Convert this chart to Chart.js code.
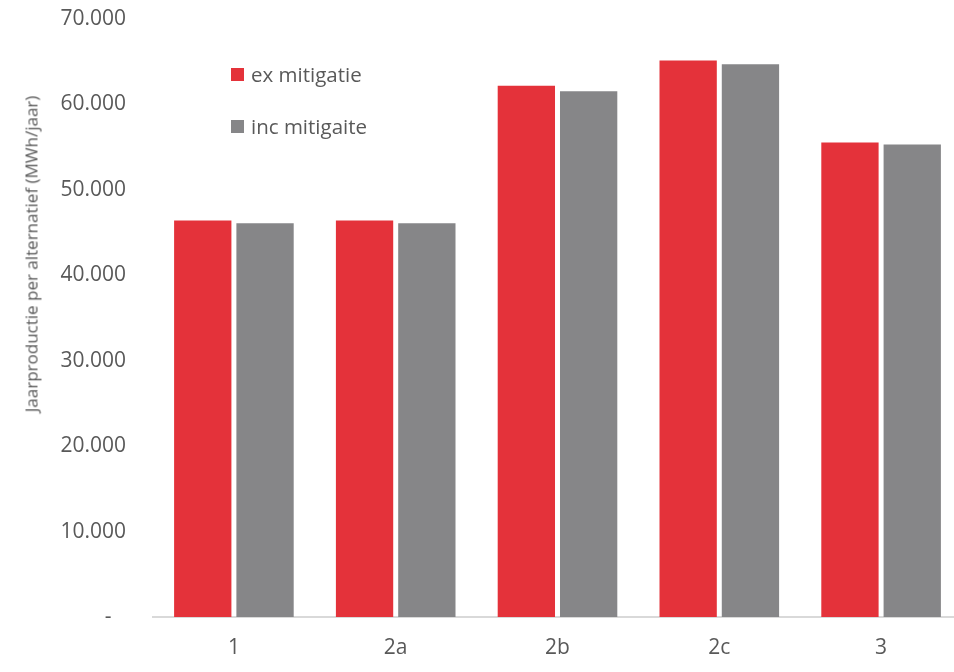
<!DOCTYPE html>
<html>
<head>
<meta charset="utf-8">
<script src="https://cdn.jsdelivr.net/npm/chart.js@4/dist/chart.umd.min.js"></script>
<style>
    html,body{margin:0;padding:0;background:#fff;overflow:hidden;}
    #wrap{position:relative;width:962px;height:672px;}
    #yTitle{
        position:absolute;left:31px;top:254px;
        transform:translate(-50%,-50%) rotate(-90deg);
        white-space:nowrap;font-family:"Open Sans",sans-serif;
        font-size:17px;color:#595959;
    }
    #legend{position:absolute;left:231px;top:60px;font-family:"Open Sans",sans-serif;font-size:20.5px;color:#595959;}
    #legend .item{display:flex;align-items:center;height:28px;margin-bottom:24px;}
    #legend .box{width:13px;height:13px;margin-right:7px;}
</style>
</head>
<body>
<div id="wrap">
    <canvas id="chartJaar" width="962" height="672"></canvas>
    <div id="yTitle">Jaarproductie per alternatief (MWh/jaar)</div>
    <div id="legend"></div>
</div>
<script>
/* ===============================
  Jaarproductie per alternatief
================================ */
const alternatieven = ['1','2a','2b','2c','3'];
const exMitigatie   = [46400, 46400, 62200, 65150, 55550];
const incMitigatie  = [46100, 46100, 61550, 64700, 55300];
const yTicks        = [0, 10000, 20000, 30000, 40000, 50000, 60000, 70000];

const tekstKleur = '#595959';
const font = {family:'"Open Sans", sans-serif', size:21};

// boekhoudnotatie: nul als streepje
function fmt(v){
    if(v===0) return '-  \u2009';
    return v.toLocaleString('nl-NL');
}

const chart = new Chart(document.getElementById('chartJaar'),{
    type:'bar',
    data:{
        labels:alternatieven,
        datasets:[
            {label:'ex mitigatie', data:exMitigatie, backgroundColor:'#e4323a'},
            {label:'inc mitigaite', data:incMitigatie, backgroundColor:'#868688'}
        ]
    },
    options:{
        responsive:false,
        animation:false,
        layout:{padding:0},
        datasets:{bar:{barPercentage:0.92,categoryPercentage:0.77}},
        plugins:{legend:{display:false},tooltip:{enabled:false}},
        scales:{
            x:{
                grid:{display:false,drawTicks:false},
                border:{color:'#d9d9d9',width:2},
                ticks:{color:tekstKleur,font:font,padding:18},
                afterFit:s=>{s.height=55;}
            },
            y:{
                min:0,max:70000,
                afterBuildTicks:s=>{s.ticks=yTicks.map(v=>({value:v}));},
                grid:{display:false,drawTicks:false},
                border:{display:false},
                ticks:{color:tekstKleur,font:font,padding:27,callback:fmt},
                afterFit:s=>{s.width=153;s.paddingTop=19;s.paddingBottom=0;}
            }
        }
    }
});

// legenda als html boven de grafiek
const legend = document.getElementById('legend');
chart.data.datasets.forEach(ds=>{
    const item = document.createElement('div');
    item.className='item';
    item.innerHTML='<span class="box" style="background:'+ds.backgroundColor+'"></span>'+ds.label;
    legend.appendChild(item);
});
</script>
</body>
</html>
